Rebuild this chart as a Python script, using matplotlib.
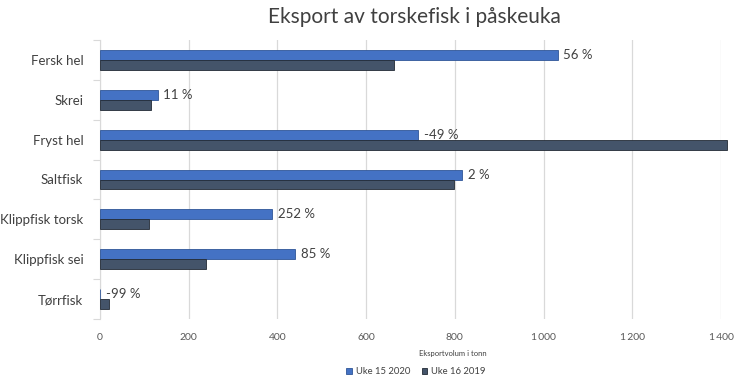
import numpy as np
from matplotlib import pyplot as plt
from matplotlib.ticker import FuncFormatter

plt.rcParams['font.family'] = ['Lato', 'DejaVu Sans']

# data (tonn)
categories = ['Fersk hel', 'Skrei', 'Fryst hel', 'Saltfisk', 'Klippfisk torsk', 'Klippfisk sei', 'Tørrfisk']
uke15_2020 = [1032, 130, 717, 817, 388, 440, 1]
uke16_2019 = [662, 116, 1413, 799, 110, 238, 20]
pct_labels = ['56 %', '11 %', '-49 %', '2 %', '252 %', '85 %', '-99 %']
x_ticks = [0, 200, 400, 600, 800, 1000, 1200, 1400]

fig = plt.figure(figsize=(7.46, 3.88), dpi=100)
ax = fig.add_axes([100/746, 1-319/388, 621/746, 279/388])

y = np.arange(len(categories))
h = 0.25
ax.barh(y - h/2, uke15_2020, height=h, color='#4472C4', edgecolor='#2F5597', linewidth=0.6,
        label='Uke 15 2020', zorder=3, clip_on=False)
ax.barh(y + h/2, uke16_2019, height=h, color='#44546A', edgecolor='#222A35', linewidth=0.6,
        label='Uke 16 2019', zorder=3, clip_on=False)

# percent labels next to the 2020 bars
for yi, v, txt in zip(y, uke15_2020, pct_labels):
    ax.annotate(txt, (v, yi - h/2), xytext=(4, 0), textcoords='offset points',
                va='center', ha='left', fontsize=9.5, color='#404040', zorder=4)

ax.set_ylim(len(categories) - 0.5, -0.5)
ax.set_xlim(0, 1400)
ax.set_yticks(y)
ax.set_yticklabels(categories, fontsize=9.5, color='#404040')
ax.set_yticks(np.arange(-0.5, len(categories), 1), minor=True)
ax.tick_params(axis='y', which='major', length=0, pad=12)
ax.tick_params(axis='y', which='minor', length=5, color='#D9D9D9', width=0.8)

ax.set_xticks(x_ticks)
ax.xaxis.set_major_formatter(FuncFormatter(lambda v, p: f'{int(v):,}'.replace(',', '\u2009')))
ax.tick_params(axis='x', length=0, labelsize=7.5, labelcolor='#595959', pad=10)
ax.set_xlabel('Eksportvolum i tonn', fontsize=5.5, color='#404040')
ax.xaxis.set_label_coords(353/621, -31/279)

ax.grid(axis='x', color='#D9D9D9', linewidth=0.9, zorder=0)
for s in ['top', 'right', 'bottom']:
    ax.spines[s].set_visible(False)
ax.spines['left'].set_color('#D9D9D9')

fig.suptitle('Eksport av torskefisk i påskeuka', x=414/746, y=1-17/388, va='center',
             fontsize=15, color='#404040')

fig.legend(loc='center', bbox_to_anchor=(416/746, 1-372/388), ncol=2, frameon=False,
           fontsize=6.8, labelcolor='#404040', handlelength=0.6, handleheight=0.6,
           handletextpad=0.4, columnspacing=1.2)

fig.savefig('out.png', dpi=100, facecolor='white')
